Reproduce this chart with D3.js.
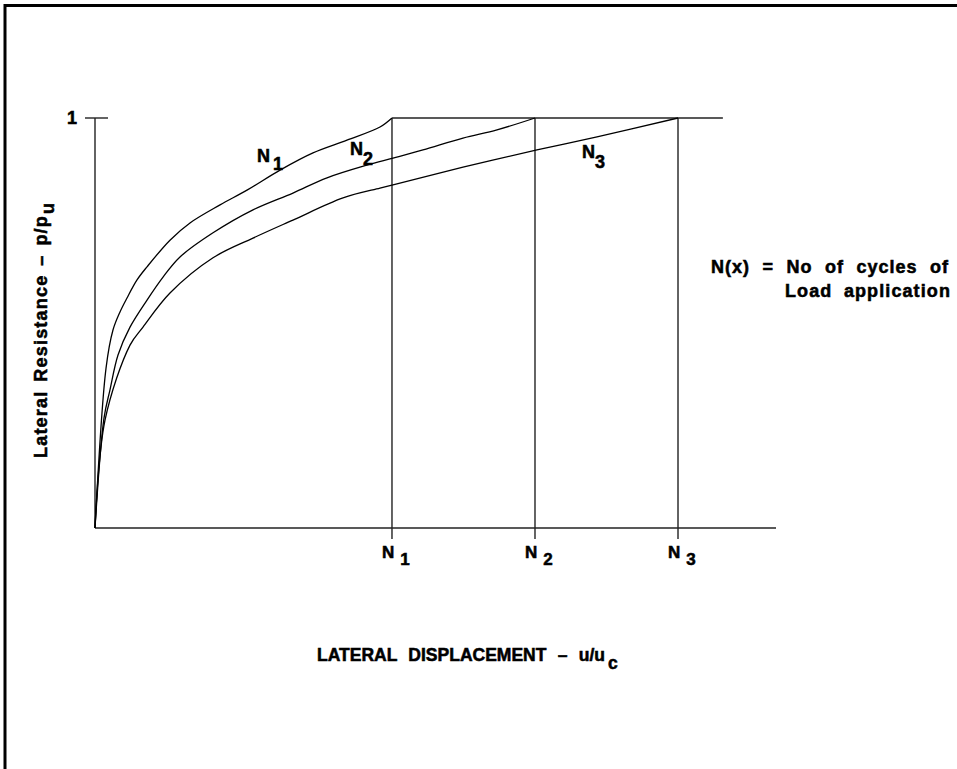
<!DOCTYPE html>
<html><head><meta charset="utf-8">
<script src="https://cdn.jsdelivr.net/npm/d3@7"></script>
<style>
body{margin:0;background:#fff;}
svg{display:block;}
text{font-family:"Liberation Sans",Arial,sans-serif;font-weight:bold;fill:#000;stroke:#000;stroke-width:0.55px;}
</style>
</head><body>
<svg id="chart" width="957" height="769"></svg>
<script>
// ---- data (dimensionless units) ----
const cycleNames = ["1", "2", "3"];
const failureDisp = [4.361, 6.461, 8.561];          // u/uc where p/pu reaches 1 for N1, N2, N3
const plateauEnd = 9.22;
const xMax = 10;
const yTickValues = [1];
const yTickLabels = ["1"];

const n1Disp = [0, 0.162, 0.264, 0.367, 0.470, 0.617, 0.764, 1.101, 1.395, 1.836, 2.232, 2.717, 3.201, 3.700, 4.185, 4.361];
const n1Res  = [0, 0.390, 0.483, 0.527, 0.561, 0.605, 0.637, 0.702, 0.744, 0.788, 0.824, 0.873, 0.915, 0.946, 0.978, 1.0];

const n2Disp = [0, 0.132, 0.220, 0.338, 0.514, 0.764, 0.999, 1.248, 1.733, 2.320, 2.907, 3.407, 3.994, 4.376, 4.816, 5.404, 5.903, 6.461];
const n2Res  = [0, 0.268, 0.337, 0.422, 0.490, 0.556, 0.612, 0.661, 0.720, 0.776, 0.817, 0.854, 0.885, 0.902, 0.922, 0.951, 0.971, 1.0];

const n3Disp = [0, 0.147, 0.514, 0.705, 1.101, 1.733, 2.320, 2.907, 3.642, 4.185, 4.376, 5.404, 6.490, 7.372, 8.561];
const n3Res  = [0, 0.263, 0.446, 0.490, 0.573, 0.659, 0.707, 0.751, 0.805, 0.829, 0.837, 0.880, 0.922, 0.954, 1.0];

const curveLabelDisp = [2.379, 3.744, 7.151];
const curveLabelRes  = [0.893, 0.910, 0.902];

const xTitle = "LATERAL DISPLACEMENT \u2013 u/u";
const xTitleSub = "c";
const yTitle = "Lateral Resistance \u2013 p/p";
const yTitleSub = "u";
const legendLines = ["N(x) = No of cycles of", "Load application"];

// ---- drawing ----
const svg = d3.select("#chart");
const x = d3.scaleLinear().domain([0, xMax]).range([95, 776]);
const y = d3.scaleLinear().domain([0, 1]).range([528, 118]);
const ink = "#222";

// stretch inter-word gaps so a text run spans the target width
function fitWords(sel, target) {
  const node = sel.node();
  const natural = node.getComputedTextLength();
  const spaces = (node.textContent.match(/ /g) || []).length;
  if (spaces > 0) sel.attr("word-spacing", Math.max(0, (target - natural) / spaces));
}

// frame (top and left edges visible, rest cut off)
svg.append("rect").attr("x", 5).attr("y", 5.5).attr("width", 1000).attr("height", 800)
  .attr("fill", "none").attr("stroke", "#000").attr("stroke-width", 3);

const g = svg.append("g");

// y axis line
g.append("line").attr("x1", x(0)).attr("x2", x(0)).attr("y1", y(0)).attr("y2", y(1))
  .attr("stroke", ink).attr("stroke-width", 1.4);
// x axis line
g.append("line").attr("x1", x(0)).attr("x2", x(xMax)).attr("y1", y(0)).attr("y2", y(0))
  .attr("stroke", ink).attr("stroke-width", 1.4);

// y tick "1"
yTickValues.forEach((v, i) => {
  g.append("line").attr("x1", x(0) - 10).attr("x2", x(0) + 13).attr("y1", y(v)).attr("y2", y(v))
    .attr("stroke", ink).attr("stroke-width", 1.4);
  g.append("text").attr("x", x(0) - 23).attr("y", y(v) + 6).attr("text-anchor", "middle")
    .attr("font-size", 18).text(yTickLabels[i]);
});

// plateau line at p/pu = 1
g.append("line").attr("x1", x(failureDisp[0])).attr("x2", x(plateauEnd)).attr("y1", y(1)).attr("y2", y(1))
  .attr("stroke", ink).attr("stroke-width", 1.4);

// verticals + x ticks + labels
failureDisp.forEach((d, i) => {
  g.append("line").attr("x1", x(d)).attr("x2", x(d)).attr("y1", y(1)).attr("y2", y(0) + 11)
    .attr("stroke", ink).attr("stroke-width", 1.4);
  const t = g.append("text").attr("x", x(d) - 10).attr("y", y(0) + 30).attr("font-size", 17);
  t.append("tspan").text("N");
  t.append("tspan").attr("dx", 6).attr("dy", 7).text(cycleNames[i]);
});

// curves
const line = d3.line().x(d => x(d[0])).y(d => y(d[1])).curve(d3.curveCatmullRom.alpha(0.5));
[[n1Disp, n1Res], [n2Disp, n2Res], [n3Disp, n3Res]].forEach(([xs, ys]) => {
  g.append("path").datum(xs.map((v, k) => [v, ys[k]])).attr("d", line)
    .attr("fill", "none").attr("stroke", "#000").attr("stroke-width", 1.3).attr("stroke-linejoin", "round");
});

// curve labels
const subDx = [3, 0, 0];
const subDy = [8, 10, 10];
curveLabelDisp.forEach((d, i) => {
  const t = g.append("text").attr("x", x(d)).attr("y", y(curveLabelRes[i])).attr("font-size", 18);
  t.append("tspan").text("N");
  t.append("tspan").attr("dx", subDx[i]).attr("dy", subDy[i]).text(cycleNames[i]);
});

// x title
const xt = svg.append("text").attr("x", 317).attr("y", 661).attr("font-size", 17.5);
const xtMain = xt.append("tspan").text(xTitle);
fitWords(xtMain, 288);
xt.append("tspan").attr("dx", 3).attr("dy", 8).text(xTitleSub);

// y title
const yt = svg.append("text").attr("transform", "translate(47,458) rotate(-90)")
  .attr("font-size", 18).attr("letter-spacing", 1.2);
const ytMain = yt.append("tspan").text(yTitle);
fitWords(ytMain, 243);
yt.append("tspan").attr("dx", 1).attr("dy", 7).text(yTitleSub);

// legend note
const l1 = svg.append("text").attr("x", 711).attr("y", 273).attr("font-size", 18)
  .attr("letter-spacing", 1).text(legendLines[0]);
fitWords(l1, 238);
const l2 = svg.append("text").attr("x", 785).attr("y", 297).attr("font-size", 18)
  .attr("letter-spacing", 1.1).text(legendLines[1]);
fitWords(l2, 166);
</script>
</body></html>
